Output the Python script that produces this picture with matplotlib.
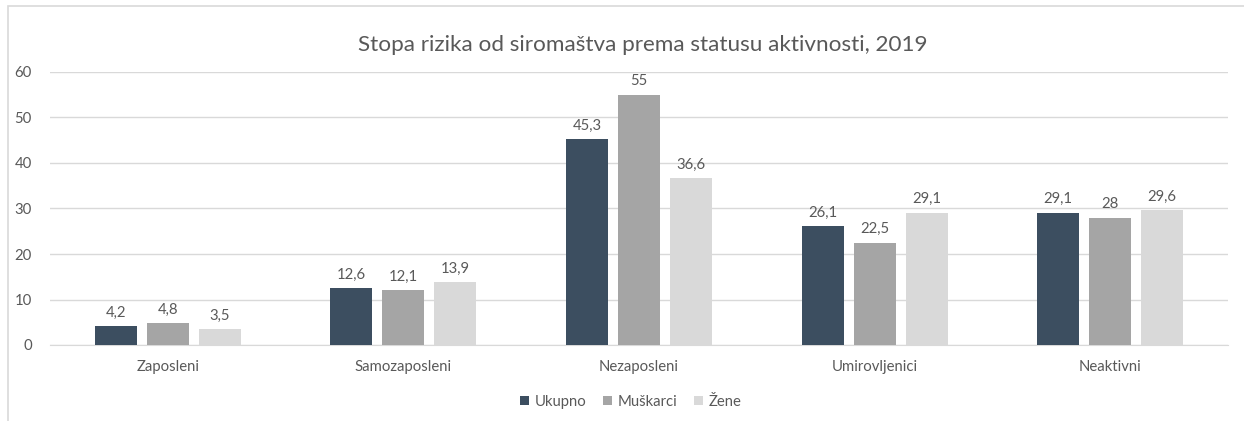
import numpy as np
import matplotlib
matplotlib.use('Agg')
import matplotlib.pyplot as plt
from matplotlib.patches import Rectangle

plt.rcParams['font.family'] = ['Lato', 'DejaVu Sans']

# Data
categories = ['Zaposleni', 'Samozaposleni', 'Nezaposleni', 'Umirovljenici', 'Neaktivni']
series_names = ['Ukupno', 'Muškarci', 'Žene']
ukupno = [4.2, 12.6, 45.3, 26.1, 29.1]
muskarci = [4.8, 12.1, 55, 22.5, 28]
zene = [3.5, 13.9, 36.6, 29.1, 29.6]
colors = ['#3c4e60', '#a5a5a5', '#d9d9d9']
text_color = '#595959'


def fmt(v):
    # Croatian decimal comma
    s = ('%g' % v)
    return s.replace('.', ',')


fig = plt.figure(figsize=(12.44, 4.21), dpi=100)
ax = fig.add_axes([50 / 1244, 1 - 345 / 421, 1178 / 1244, 273 / 421])

x = np.arange(len(categories))
width = 0.178
step = 0.221
for i, (vals, name) in enumerate(zip([ukupno, muskarci, zene], series_names)):
    pos = x + (i - 1) * step
    bars = ax.bar(pos, vals, width, color=colors[i], label=name, zorder=3)
    for b, v in zip(bars, vals):
        ax.annotate(fmt(v), (b.get_x() + b.get_width() / 2, v),
                    xytext=(0, 4.5), textcoords='offset points',
                    ha='center', va='bottom', fontsize=10.7, color=text_color)

ax.set_xlim(-0.5, len(categories) - 0.5)
ax.set_ylim(0, 60)
ax.set_yticks(np.arange(0, 61, 10))
ax.set_xticks(x)
ax.set_xticklabels(categories)
ax.yaxis.grid(True, color='#d9d9d9', linewidth=1)
ax.set_axisbelow(True)
for s in ['top', 'right', 'left']:
    ax.spines[s].set_visible(False)
ax.spines['bottom'].set_color('#d9d9d9')
ax.tick_params(axis='both', length=0, labelsize=10.7, colors=text_color)
ax.tick_params(axis='x', pad=11)
ax.tick_params(axis='y', pad=13)

fig.text(643 / 1244, 1 - 45 / 421, 'Stopa rizika od siromaštva prema statusu aktivnosti, 2019',
         ha='center', va='center', fontsize=16.2, color=text_color)

fig.legend(loc='center', bbox_to_anchor=(631 / 1244, 1 - 402 / 421), ncol=3,
           frameon=False, fontsize=10.7, labelcolor=text_color,
           handlelength=0.6, handleheight=0.6, handletextpad=0.4,
           columnspacing=1.1)

# outer chart border
fig.patches.append(Rectangle((8 / 1244, -0.1), 1.2, 1 - 6 / 421 + 0.1,
                             transform=fig.transFigure, fill=False,
                             edgecolor='#d9d9d9', linewidth=1.2))

fig.savefig('out.png', dpi=100)
